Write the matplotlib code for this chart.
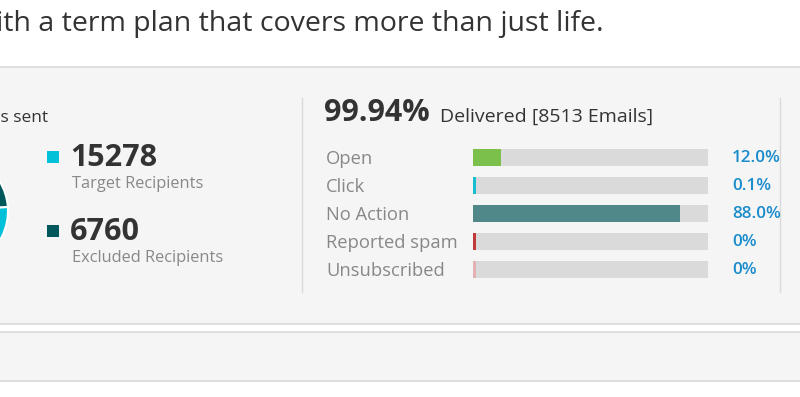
import matplotlib
matplotlib.use("Agg")
import matplotlib.pyplot as plt

plt.rcParams['font.family'] = ['Open Sans', 'DejaVu Sans']

# recipients (pie + legend)
recipient_labels = ["Target Recipients", "Excluded Recipients"]
recipient_counts = [15278, 6760]
recipient_colors = ["#00c1d8", "#00585c"]

# delivery stats
delivered_pct = "99.94%"
delivered_emails = 8513
action_labels = ["Open", "Click", "No Action", "Reported spam", "Unsubscribed"]
action_pcts = [12.0, 0.1, 88.0, 0.0, 0.0]
action_texts = ["12.0%", "0.1%", "88.0%", "0%", "0%"]
action_colors = ["#7ac04b", "#17bdd0", "#50888a", "#c03a3a", "#e3b0b3"]

W, H = 800, 397
fig = plt.figure(figsize=(W / 100, H / 100), dpi=100)
fig.patch.set_facecolor("white")
ax = fig.add_axes([0, 0, 1, 1])
ax.set_xlim(0, W)
ax.set_ylim(H, 0)
ax.axis("off")

# page blocks
ax.axhspan(67, 323, color="#f5f5f5", zorder=0)
ax.axhspan(332, 381, color="#f5f5f5", zorder=0)
for yl in [67, 323.5, 332, 381]:
    ax.axhline(yl, color="#dadada", lw=1.2, zorder=1)
ax.plot([302, 302], [98, 292], color="#dadada", lw=1)
ax.plot([780, 780], [98, 292], color="#dadada", lw=1)

ax.text(-26, 24, "with a term plan that covers more than just life.",
        fontsize=20.5, color="#333333", va="center", ha="left")

# left panel
ax.text(48, 118, "Emails sent", fontsize=12.5, color="#333333", va="center", ha="right")

# pie mostly hidden off the left edge: centre (-49, 211), radius 57 px
pie_ax = fig.add_axes([-106 / W, (H - 268) / H, 114 / W, 114 / H])
pie_ax.pie(recipient_counts[::-1], colors=recipient_colors[::-1], startangle=4,
           counterclock=True, wedgeprops=dict(edgecolor="white", linewidth=1.5))
pie_ax.set_xlim(-1.0, 1.0)
pie_ax.set_ylim(-1.0, 1.0)
pie_ax.axis("off")

for i, (lab, cnt, col) in enumerate(zip(recipient_labels, recipient_counts, recipient_colors)):
    y0 = 157 + i * 74
    ax.add_patch(plt.Rectangle((47, y0 - 6), 12, 12, color=col, lw=0))
    ax.text(70, y0 + 1, str(cnt), fontsize=22, fontweight="bold", color="#333333",
            va="center", ha="left")
    ax.text(72, y0 + 27, lab, fontsize=11.8, color="#888888", va="center", ha="left")

# right panel
ax.text(324, 113, delivered_pct, fontsize=22, fontweight="bold", color="#333333",
        va="center", ha="left")
ax.text(440, 117, f"Delivered [{delivered_emails} Emails]", fontsize=14, color="#333333",
        va="center", ha="left")

track_x, track_w, bar_h = 473, 235, 17
rows = [157.5 + 28 * i for i in range(len(action_labels))]
ax.barh(rows, [track_w] * len(rows), left=track_x, height=bar_h, color="#dadada", lw=0)
fill = [max(p / 100 * track_w, 3) for p in action_pcts]
ax.barh(rows, fill, left=track_x, height=bar_h, color=action_colors, lw=0)
for y, lab, txt in zip(rows, action_labels, action_texts):
    ax.text(326, y + 6, lab, fontsize=13.2, color="#888888", va="baseline", ha="left")
    ax.text(732, y + 1, txt, fontsize=12.3, fontweight="semibold", color="#1a8ccc",
            va="center", ha="left")

fig.savefig("out.png", dpi=100, facecolor="white")
